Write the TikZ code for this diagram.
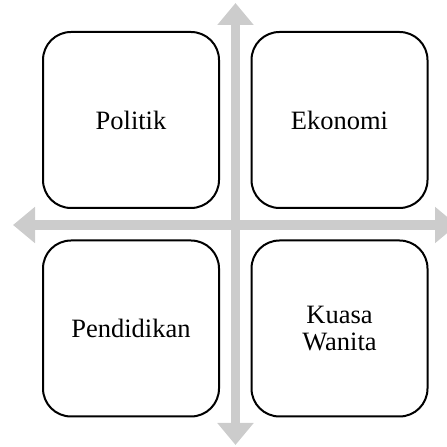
\documentclass[tikz,border=0pt]{standalone}
\usepackage{fontspec}
\setmainfont{Liberation Serif}
\usetikzlibrary{arrows.meta}

\begin{document}
\begin{tikzpicture}[x=1pt,y=1pt,node distance=208.5pt,
                    area/.style={rectangle,draw,fill=white,rounded corners=28pt,line width=2pt,
                                 minimum size=176pt,align=center,font=\fontsize{26.5}{27}\selectfont},
                    axis/.style={{Triangle[length=22pt,width=35pt]}-{Triangle[length=22pt,width=35pt]},
                                 line width=9.5pt,draw=gray!40}]
  \useasboundingbox (0,0) rectangle (447,447);

  \coordinate (up) at (235.5,444);
  \coordinate (down) at (235.5,2);
  \coordinate (left) at (13,222);
  \coordinate (right) at (457,222);

  \draw[axis] (down) -- (up);
  \draw[axis] (left) -- (right);

  \node[area] (politik) at (131,327) {Politik};
  \node[area] (ekonomi) [right of=politik] {Ekonomi};
  \node[area] (pendidikan) [below of=politik] {Pendidikan};
  \node[area] (kuasa) [right of=pendidikan] {Kuasa\\Wanita};
\end{tikzpicture}
\end{document}
